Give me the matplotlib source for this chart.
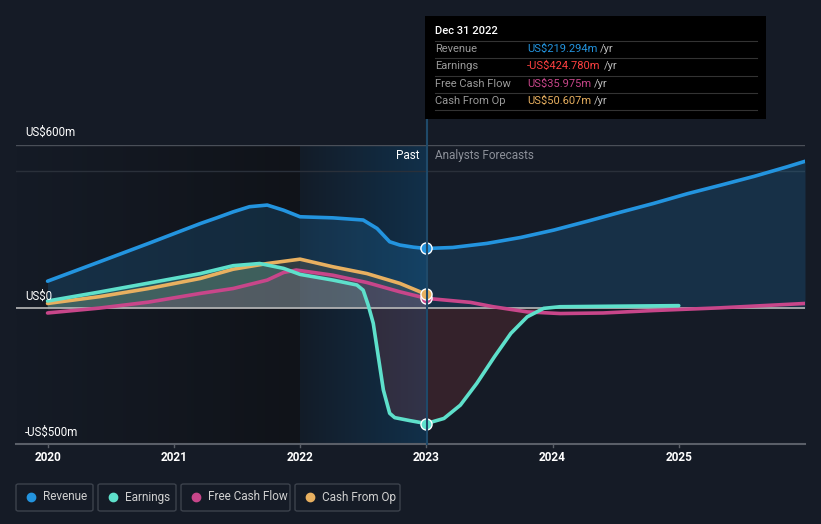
import matplotlib
matplotlib.use('Agg')
import matplotlib.pyplot as plt
from matplotlib.patches import Rectangle, FancyBboxPatch
from matplotlib.lines import Line2D
import numpy as np

# ---- data (US$m, decimal years) ----
rev_x = [2020.0, 2020.41, 2020.8, 2021.21, 2021.34, 2021.47, 2021.6, 2021.74, 2021.87, 2022.0,
         2022.26, 2022.5, 2022.61, 2022.71, 2022.79, 2022.9, 2023.0,
         2023.21, 2023.48, 2023.75, 2024.01, 2024.28, 2024.54, 2024.8, 2025.07, 2025.33,
         2025.6, 2025.86, 2026.0]
rev_y = [99, 170, 238, 311, 332, 354, 373, 379, 360, 336,
         332, 324, 293, 244, 232, 224, 219.294,
         223, 238, 260, 287, 320, 353, 385, 421, 452,
         485, 520, 540]

earn_x = [2020.0, 2020.41, 2020.8, 2021.21, 2021.47, 2021.68, 2021.87, 2022.0, 2022.26, 2022.45,
          2022.5, 2022.54, 2022.58, 2022.62, 2022.66, 2022.71, 2022.75, 2022.87, 2023.0,
          2023.14, 2023.27, 2023.4, 2023.54, 2023.67, 2023.8, 2023.93, 2024.06, 2024.5, 2025.0]
earn_y = [26, 59, 92, 127, 156, 164, 146, 124, 103, 85,
          66, 11, -56, -179, -301, -387, -403, -414, -424.78,
          -406, -357, -277, -179, -93, -32, -1, 5, 7, 9]

fcf_x = [2020.0, 2020.41, 2020.8, 2021.21, 2021.47, 2021.74, 2021.87, 2021.97, 2022.26,
         2022.53, 2022.79, 2023.0, 2023.35, 2023.53, 2023.8, 2024.06, 2024.4, 2024.8,
         2025.33, 2026.0]
fcf_y = [-18, 0, 22, 54, 72, 103, 131, 140, 121,
         94, 60, 35.975, 21, 5, -14, -20, -18, -9,
         1, 17]

cfo_x = [2020.0, 2020.41, 2020.8, 2021.21, 2021.47, 2021.74, 2022.0, 2022.26, 2022.53,
         2022.79, 2023.0]
cfo_y = [17, 42, 72, 109, 143, 164, 180, 152, 127, 91, 50.607]

years = [2020, 2021, 2022, 2023, 2024, 2025]
names = ['Revenue', 'Earnings', 'Free Cash Flow', 'Cash From Op']
tip_vals = ['US$219.294m', '-US$424.780m', 'US$35.975m', 'US$50.607m']

C_REV = '#2394df'
C_EARN = '#5ee0cb'
C_FCF = '#c8468a'
C_CFO = '#e8b060'
BG = '#151b26'

W, H = 821, 524
plt.rcParams['font.family'] = ['Roboto', 'DejaVu Sans']

fig = plt.figure(figsize=(W / 100, H / 100), dpi=100, facecolor=BG)


def fx(px):
    return px / W


def fy(py):
    return 1 - py / H


ax = fig.add_axes([fx(16), fy(444), (805 - 16) / W, (444 - 145) / H])
ax.set_facecolor(BG)
ax.set_xlim(2019.75, 2026.0)
ax.set_ylim(-500, 600)
for s in ax.spines.values():
    s.set_visible(False)
ax.set_xticks([])
ax.set_yticks([])

# background shading: darkening toward 2022, blue "past" band 2022-2023
grad = np.linspace(0, 1, 256).reshape(1, -1)
ax.imshow(grad, extent=[2019.75, 2022.0, -500, 600], aspect='auto',
          cmap=matplotlib.colors.LinearSegmentedColormap.from_list('d', [BG, '#101319']),
          zorder=0)
ax.imshow(grad, extent=[2022.0, 2023.0, -500, 600], aspect='auto',
          cmap=matplotlib.colors.LinearSegmentedColormap.from_list('p', ['#131c28', '#11304a']),
          zorder=0)

# grid lines
ax.axhline(600, color='#4a4f58', lw=1, zorder=1)
ax.axhline(505, color='#2a303a', lw=1, zorder=1)
ax.axhline(0, color='#b8b8b8', lw=1.2, zorder=3)
ax.axhline(-500, color='#5a5f68', lw=1.5, zorder=3, clip_on=False)

# fills
ax.fill_between(rev_x, rev_y, 0, color=C_REV, alpha=0.18, lw=0, zorder=2)
ex = np.array(earn_x)
ey = np.array(earn_y)
ax.fill_between(ex, ey, 0, where=ey >= 0, interpolate=True, color=C_EARN, alpha=0.22, lw=0, zorder=2)
ax.fill_between(ex, ey, 0, where=ey <= 0, interpolate=True, color='#d94a4a', alpha=0.16, lw=0, zorder=2)
ax.fill_between(cfo_x, cfo_y, 0, color=C_CFO, alpha=0.14, lw=0, zorder=2)
fx_arr = np.array(fcf_x)
ax.fill_between(fx_arr[fx_arr <= 2023], np.array(fcf_y)[fx_arr <= 2023], 0,
                color=C_FCF, alpha=0.14, lw=0, zorder=2)

# lines
kw = dict(lw=2.6, solid_capstyle='round', solid_joinstyle='round')
ax.plot(rev_x, rev_y, color=C_REV, zorder=5, **kw)
ax.plot(cfo_x, cfo_y, color=C_CFO, zorder=5, **kw)
ax.plot(earn_x, earn_y, color=C_EARN, zorder=6, **kw)
ax.plot(fcf_x, fcf_y, color=C_FCF, zorder=5, **kw)

# markers at Dec 31 2022
for xs, ys, c in [(rev_x, rev_y, C_REV), (earn_x, earn_y, C_EARN),
                  (fcf_x, fcf_y, C_FCF), (cfo_x, cfo_y, C_CFO)]:
    i = xs.index(2023.0)
    ax.plot([xs[i]], [ys[i]], 'o', ms=8, color=c, mec='white', mew=1, zorder=8)

# x ticks
for yr in years:
    ax.plot([yr, yr], [-500, -512], color='#5a5f68', lw=1, clip_on=False, zorder=3)
    ax.text(yr, -548, str(yr), color='white', fontsize=8.5, fontweight='bold',
            ha='center', va='center', clip_on=False)

# vertical "now" line
fig.add_artist(Line2D([fx(427), fx(427)], [fy(119), fy(444)], color='#1f4a6a', lw=1.5, zorder=4))

# y labels
fig.text(fx(25), fy(132), 'US$600m', color='white', fontsize=8.3, va='center')
fig.text(fx(25), fy(296), 'US$0', color='white', fontsize=8.3, va='center')
fig.text(fx(25), fy(432), '-US$500m', color='white', fontsize=8.3, va='center')
fig.text(fx(419), fy(156), 'Past', color='white', fontsize=8.5, ha='right', va='center')
fig.text(fx(435), fy(156), 'Analysts Forecasts', color='#8c9099', fontsize=8.5, va='center')

# tooltip
fig.add_artist(Rectangle((fx(425), fy(119)), (766 - 425) / W, (119 - 16) / H,
                         facecolor='black', edgecolor='none', zorder=10))
fig.text(fx(435), fy(31), 'Dec 31 2022', color='white', fontsize=8, fontweight='medium',
         va='center', zorder=11)
row_y = [49, 66, 84, 101]
val_colors = [C_REV, '#ff4040', C_FCF, C_CFO]
for i in range(4):
    fig.add_artist(Line2D([fx(435), fx(757)], [fy(row_y[i] - 8.5)] * 2, color='#333333', lw=0.8, zorder=11))
    fig.text(fx(435), fy(row_y[i]), names[i], color='#9a9a9a', fontsize=8, va='center', zorder=11)
    t = fig.text(fx(527), fy(row_y[i]), tip_vals[i], color=val_colors[i], fontsize=8,
                 va='center', zorder=11)
    fig.canvas.draw()
    bb = t.get_window_extent()
    fig.text(bb.x1 / W + fx(3), fy(row_y[i]), '/yr', color='#bbbbbb', fontsize=8, va='center', zorder=11)
fig.add_artist(Line2D([fx(435), fx(757)], [fy(110)] * 2, color='#333333', lw=0.8, zorder=11))

# legend boxes
boxes = [(16, 93), (98, 176), (181, 290), (295, 400)]
leg_colors = [C_REV, C_EARN, C_FCF, C_CFO]
for (x0, x1), nm, c in zip(boxes, names, leg_colors):
    fig.add_artist(FancyBboxPatch((fx(x0), fy(511)), (x1 - x0) / W, 27 / H,
                                  boxstyle='round,pad=0,rounding_size=0.003',
                                  facecolor='none', edgecolor='#3c424c', lw=1))
    fig.add_artist(Line2D([fx(x0 + 15)], [fy(497)], marker='o', ms=6, color=c, lw=0))
    fig.text(fx(x0 + 27), fy(497), nm, color='#d0d0d0', fontsize=8.5, va='center')

fig.savefig('out.png', dpi=100, facecolor=BG)
